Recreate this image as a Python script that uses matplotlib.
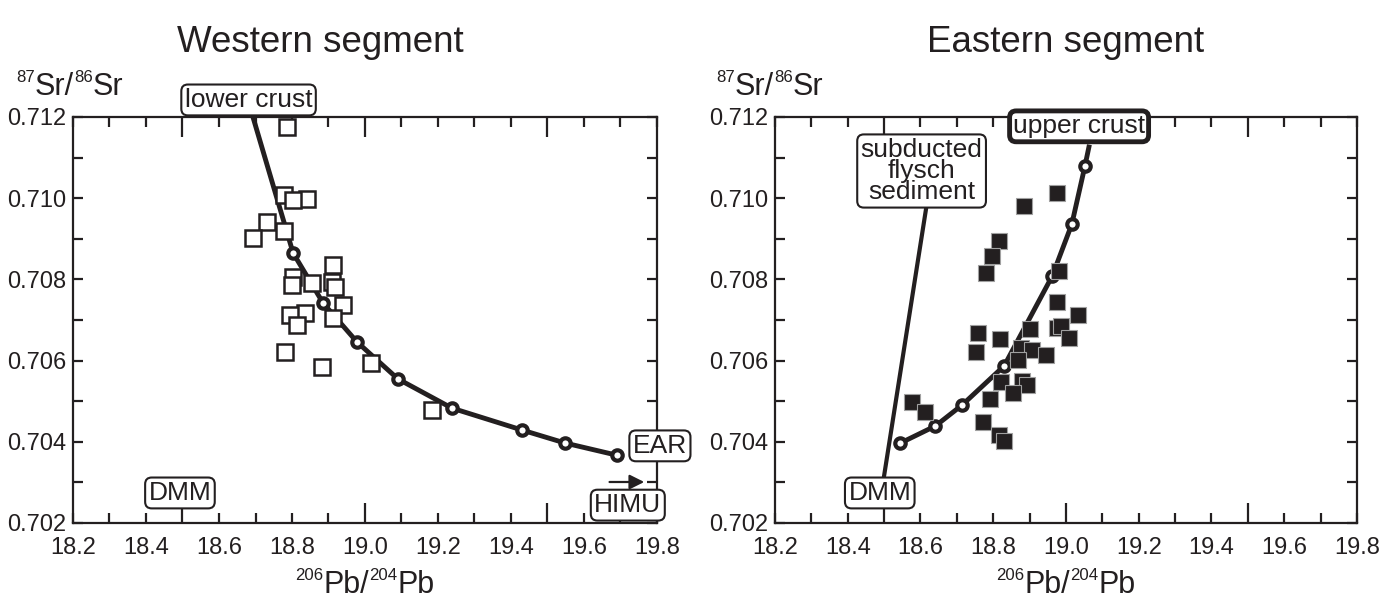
import matplotlib
matplotlib.use('Agg')
import matplotlib.pyplot as plt
from matplotlib.ticker import MultipleLocator, FuncFormatter

plt.rcParams['font.family'] = ['Liberation Sans', 'DejaVu Sans']

INK = '#231f20'
W, H = 1395, 598

# Western segment samples (206Pb/204Pb, 87Sr/86Sr)
west_pb = [18.786, 18.778, 18.841, 18.803, 18.732, 18.778, 18.693,
           18.803, 18.800, 18.855, 18.912, 18.910, 18.918, 18.940,
           18.912, 18.836, 18.795, 18.814, 18.781, 18.882, 19.016, 19.184]
west_sr = [0.71175, 0.71008, 0.70998, 0.70996, 0.70941, 0.70919, 0.70902,
           0.70806, 0.70786, 0.70791, 0.70835, 0.70794, 0.70782, 0.70737,
           0.70705, 0.70717, 0.70712, 0.70688, 0.70621, 0.70584, 0.70594, 0.70478]

# lower crust - EAR mixing curve (first vertex is the lower crust end)
west_mix_pb = [18.693, 18.803, 18.885, 18.978, 19.090, 19.238, 19.430, 19.548, 19.690]
west_mix_sr = [0.71200, 0.70865, 0.70742, 0.70646, 0.70555, 0.70483, 0.70429, 0.70397, 0.70367]

# Eastern segment samples
east_pb = [18.975, 18.885, 18.816, 18.797, 18.781, 18.981, 18.975, 19.033,
           18.975, 18.986, 19.008, 18.901, 18.759, 18.819, 18.753, 18.877,
           18.907, 18.945, 18.868, 18.822, 18.879, 18.893, 18.855, 18.792,
           18.578, 18.611, 18.773, 18.816, 18.830]
east_sr = [0.71013, 0.70981, 0.70895, 0.70858, 0.70816, 0.70821, 0.70744, 0.70712,
           0.70680, 0.70685, 0.70656, 0.70678, 0.70668, 0.70653, 0.70621, 0.70631,
           0.70626, 0.70614, 0.70601, 0.70547, 0.70550, 0.70540, 0.70520, 0.70505,
           0.70498, 0.70473, 0.70449, 0.70417, 0.70402]

# DMM - upper crust mixing curve (last vertex is the upper crust end)
east_mix_pb = [18.545, 18.641, 18.715, 18.830, 18.962, 19.016, 19.052, 19.063]
east_mix_sr = [0.70397, 0.70439, 0.70491, 0.70587, 0.70808, 0.70936, 0.71079, 0.71126]

# DMM - subducted flysch sediment line
flysch_pb = [18.499, 18.616]
flysch_sr = [0.70311, 0.70978]


def style_axes(ax):
    ax.set_xlim(18.2, 19.8)
    ax.set_ylim(0.702, 0.712)
    ax.xaxis.set_major_locator(MultipleLocator(0.1))
    ax.yaxis.set_major_locator(MultipleLocator(0.001))
    ax.xaxis.set_major_formatter(FuncFormatter(
        lambda v, p: f'{v:.1f}' if round(v * 10) % 2 == 0 else ''))
    ax.yaxis.set_major_formatter(FuncFormatter(
        lambda v, p: f'{v:.3f}' if round(v * 1000) % 2 == 0 else ''))
    ax.tick_params(direction='in', top=True, right=True, length=7.5, width=1.6,
                   color=INK, labelsize=17, labelcolor=INK)
    ax.tick_params(axis='x', pad=10)
    ax.tick_params(axis='y', pad=5)
    for sp in ax.spines.values():
        sp.set_linewidth(1.6)
        sp.set_color(INK)
    # longer ticks every 0.5
    for loc, tick in zip(ax.get_xticks(), ax.xaxis.get_major_ticks()):
        if round(loc * 10) % 5 == 0:
            tick.tick1line.set_markersize(14.5)
            tick.tick2line.set_markersize(14.5)


def label_box(ax, x, y, s, lw=1.5, **kw):
    ax.text(x, y, s, ha='center', va='center', fontsize=19, color=INK,
            zorder=6, clip_on=False, linespacing=0.85,
            bbox=dict(boxstyle='round,pad=0.13,rounding_size=0.25',
                      fc='white', ec=INK, lw=lw), **kw)


def iso_text(fig, x_px, y_px, parts, size, ha='left'):
    # lay out "^87Sr/^86Sr"-style labels with small raised mass numbers
    r = fig.canvas.get_renderer()
    pieces = []
    for s, sup in parts:
        t = fig.text(0, 0, s, fontsize=size * 0.55 if sup else size,
                     color=INK, va='baseline', ha='left')
        pieces.append((t, sup, t.get_window_extent(r).width))
    total = sum(p[2] for p in pieces)
    x = x_px - total / 2 if ha == 'center' else x_px
    rise = 0.42 * size * 100 / 72
    for t, sup, w in pieces:
        t.set_position((x / W, 1 - (y_px - (rise if sup else 0)) / H))
        x += w


fig = plt.figure(figsize=(W / 100, H / 100), dpi=100)
axL = fig.add_axes([73 / W, 75 / H, 584 / W, 406 / H])
axR = fig.add_axes([775 / W, 75 / H, 582 / W, 406 / H])

# Western segment
style_axes(axL)
axL.plot(west_mix_pb, west_mix_sr, '-', color=INK, lw=3.5, zorder=2, clip_on=False)
axL.plot(west_pb, west_sr, 's', ms=12, mfc='white', mec=INK, mew=1.8, zorder=3)
axL.plot(west_mix_pb[1:], west_mix_sr[1:], 'o', ms=7.5, mfc='white', mec=INK,
         mew=3, zorder=4, clip_on=False)
label_box(axL, 18.681, 0.71242, 'lower crust')
label_box(axL, 18.493, 0.70274, 'DMM')
label_box(axL, 19.808, 0.70390, 'EAR')
label_box(axL, 19.720, 0.70244, 'HIMU')
axL.annotate('', xy=(19.765, 0.70301), xytext=(19.67, 0.70301),
             arrowprops=dict(arrowstyle='-|>', color=INK, lw=1.6,
                             mutation_scale=22, shrinkA=0, shrinkB=0))

# Eastern segment
style_axes(axR)
axR.plot(flysch_pb, flysch_sr, '-', color=INK, lw=3, zorder=2)
axR.plot(east_mix_pb, east_mix_sr, '-', color=INK, lw=3.5, zorder=2, clip_on=False)
axR.plot(east_mix_pb[:-1], east_mix_sr[:-1], 'o', ms=7.5, mfc='white', mec=INK,
         mew=3, zorder=2.5)
axR.plot(east_pb, east_sr, 's', ms=11.5, mfc=INK, mec='#a0a0a0', mew=0.8, zorder=3)
label_box(axR, 18.603, 0.71067, 'subducted\nflysch\nsediment')
label_box(axR, 18.488, 0.70274, 'DMM')
label_box(axR, 19.036, 0.71177, 'upper crust', lw=3.5)

# titles and axis labels
fig.text(320 / W, 1 - 52 / H, 'Western segment', ha='center', va='baseline',
         fontsize=26.5, color=INK)
fig.text(1066 / W, 1 - 52 / H, 'Eastern segment', ha='center', va='baseline',
         fontsize=26.5, color=INK)
for x0 in (16, 716):
    iso_text(fig, x0, 95, [('87', True), ('Sr/', False), ('86', True), ('Sr', False)], 22)
for xc in (365, 1066):
    iso_text(fig, xc, 593, [('206', True), ('Pb/', False), ('204', True), ('Pb', False)],
             22, ha='center')

fig.savefig('out.png', dpi=100)
